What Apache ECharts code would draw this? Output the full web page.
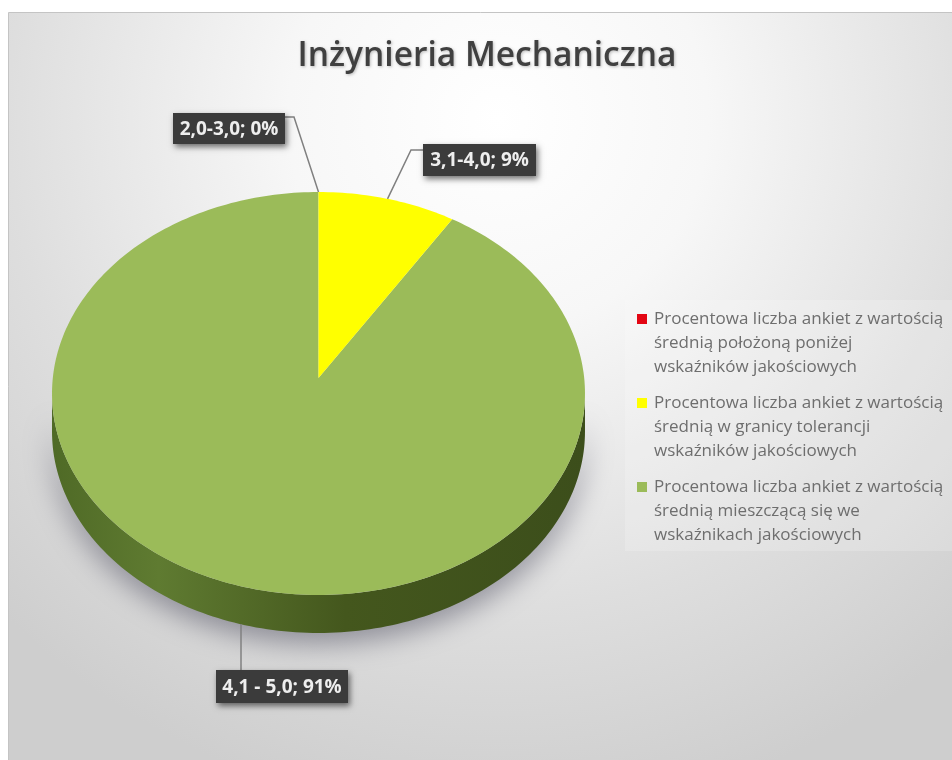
<!DOCTYPE html>
<html>
<head>
<meta charset="utf-8">
<style>
html, body { margin: 0; padding: 0; background: #fff; }
#chartWrapper { width: 952px; height: 760px; }
</style>
<script src="https://cdn.jsdelivr.net/npm/echarts@6/dist/echarts.min.js"></script>
</head>
<body>
<div id="chartWrapper"></div>
<script>
const chartTitle = "Inżynieria Mechaniczna"
const sliceNames = ["2,0-3,0", "3,1-4,0", "4,1 - 5,0"]
const sliceValues = [0, 9, 91]
const sliceColors = ["#e30613", "#ffff00", "#9bbb59"]
const legendNames = [
	"Procentowa liczba ankiet z wartością\nśrednią położoną poniżej\nwskaźników jakościowych",
	"Procentowa liczba ankiet z wartością\nśrednią w granicy tolerancji\nwskaźników jakościowych",
	"Procentowa liczba ankiet z wartością\nśrednią mieszczącą się we\nwskaźnikach jakościowych",
]

// tilted pie: circle seen in perspective, centre of the circle lands on (cx, cy)
const pie = { cx: 318.5, cy: 378, a: 265.7, b: 200.3, k: 0.0769, depth: 38 }
// label boxes and leader bends
const callouts = [
	{ x: 173, y: 113, w: 112, h: 31, bend: [[285, 117], [294, 117]] },
	{ x: 423, y: 144, w: 113, h: 32, bend: [[423, 150], [411, 150]] },
	{ x: 216, y: 670, w: 132, h: 33, bend: [[241, 670]] },
]

const myChart = echarts.init(document.getElementById("chartWrapper"))
const total = sliceValues.reduce((a, b) => a + b, 0)

function rimPoint(t, dy) {
	const w = 1 + pie.k * Math.cos(t)
	return [pie.cx + pie.a * Math.sin(t) / w, pie.cy - pie.b * Math.cos(t) / w + (dy || 0)]
}

function arcPoints(t0, t1, dy) {
	const steps = Math.max(1, Math.ceil((t1 - t0) / 0.02))
	const pts = []
	for (let i = 0; i <= steps; i++) {
		pts.push(rimPoint(t0 + (t1 - t0) * i / steps, dy))
	}
	return pts
}

// one slice: side wall, top face, leader line and label box
function renderSlice(index, value) {
	const before = sliceValues.slice(0, index).reduce((a, b) => a + b, 0)
	const t0 = before / total * Math.PI * 2
	const t1 = (before + value) / total * Math.PI * 2
	const tm = (t0 + t1) / 2
	const children = []

	// front wall runs between the two widest points of the rim
	const wallStart = Math.acos(-pie.k)
	const w0 = Math.max(t0, wallStart)
	const w1 = Math.min(t1, Math.PI * 2 - wallStart)
	if (w1 > w0) {
		children.push({
			type: "polygon",
			shape: { points: arcPoints(w0, w1, 0).concat(arcPoints(w0, w1, pie.depth).reverse()) },
			style: {
				fill: new echarts.graphic.LinearGradient(0, 0, 1, 0, [
					{ offset: 0, color: "#4f6a26" },
					{ offset: 0.2, color: "#5f7b31" },
					{ offset: 0.55, color: "#44571d" },
					{ offset: 1, color: "#3c4e1b" },
				]),
				shadowColor: "rgba(60,60,80,0.5)",
				shadowBlur: 28,
				shadowOffsetY: 10,
			},
		})
	}

	if (value > 0) {
		children.push({
			type: "polygon",
			shape: { points: [[pie.cx, pie.cy]].concat(arcPoints(t0, t1, 0)) },
			style: { fill: sliceColors[index] },
		})
	}

	// leader goes to the middle of the slice, big slice's middle is on the wall
	const box = callouts[index]
	let anchor = rimPoint(tm, 0)
	if (w1 > w0) {
		const lx = box.bend[0][0]
		anchor = arcPoints(w0, w1, pie.depth).reduce((best, p) =>
			Math.abs(p[0] - lx) < Math.abs(best[0] - lx) ? p : best)
		anchor = [lx, anchor[1]]
	}
	children.push({
		type: "polyline",
		shape: { points: box.bend.concat([anchor]) },
		style: { fill: null, stroke: "#808080", lineWidth: 1.5 },
	})
	children.push({
		type: "rect",
		shape: { x: box.x, y: box.y, width: box.w, height: box.h },
		style: {
			fill: "#3b3b3b",
			shadowColor: "rgba(0,0,0,0.55)",
			shadowBlur: 6,
			shadowOffsetX: 2,
			shadowOffsetY: 3,
		},
	})
	children.push({
		type: "text",
		style: {
			x: box.x + box.w / 2,
			y: box.y + box.h / 2 + 1,
			text: `${sliceNames[index]}; ${value}%`,
			fill: "#eeeeee",
			font: "bold 19px 'Open Sans'",
			align: "center",
			verticalAlign: "middle",
		},
	})
	return { type: "group", children: children }
}

let option = {
	backgroundColor: "#ffffff",
	animation: false,
	title: {
		text: chartTitle,
		left: 482,
		top: 34,
		textAlign: "center",
		textStyle: {
			fontFamily: "Open Sans",
			fontSize: 33.5,
			fontWeight: 600,
			color: "#404040",
			textShadowColor: "rgba(0,0,0,0.25)",
			textShadowBlur: 3,
			textShadowOffsetX: 1,
			textShadowOffsetY: 1,
		},
	},
	legend: {
		orient: "vertical",
		left: 637,
		top: 307,
		padding: [0, 0, 0, 0],
		itemWidth: 10,
		itemHeight: 72,
		itemGap: 12,
		// square near the top of a tall box, so it lines up with the first text line
		icon: "path://M0 7H10V17H0Z M0 0h0.05v0.05h-0.05Z M9.95 71.95h0.05v0.05h-0.05Z",
		selectedMode: false,
		data: legendNames,
		textStyle: {
			fontFamily: "Open Sans",
			fontSize: 17,
			lineHeight: 24,
			color: "#6e6e6e",
			padding: [0, 0, 0, 2],
		},
	},
	graphic: [
		{
			type: "rect",
			z: -10,
			shape: { x: 8.5, y: 12.5, width: 960, height: 760 },
			style: {
				stroke: "#c4c4c4",
				lineWidth: 1,
				fill: new echarts.graphic.RadialGradient(0.51, 0.14, 0.92, [
					{ offset: 0, color: "#ffffff" },
					{ offset: 0.3, color: "#f7f7f7" },
					{ offset: 0.7, color: "#dedede" },
					{ offset: 1, color: "#cecece" },
				]),
			},
		},
		{
			type: "rect",
			z: -9,
			shape: { x: 625, y: 300, width: 327, height: 251 },
			style: { fill: "rgba(255,255,255,0.18)" },
		},
	],
	series: legendNames.map((name, index) => ({
		name: name,
		type: "custom",
		coordinateSystem: "none",
		silent: true,
		itemStyle: { color: sliceColors[index] },
		data: [sliceValues[index]],
		// big slice first so its wall sits under the others
		z: index === 2 ? 1 : 2,
		renderItem: (params, api) => renderSlice(index, api.value(0)),
	})),
}

myChart.setOption(option)
</script>
</body>
</html>
